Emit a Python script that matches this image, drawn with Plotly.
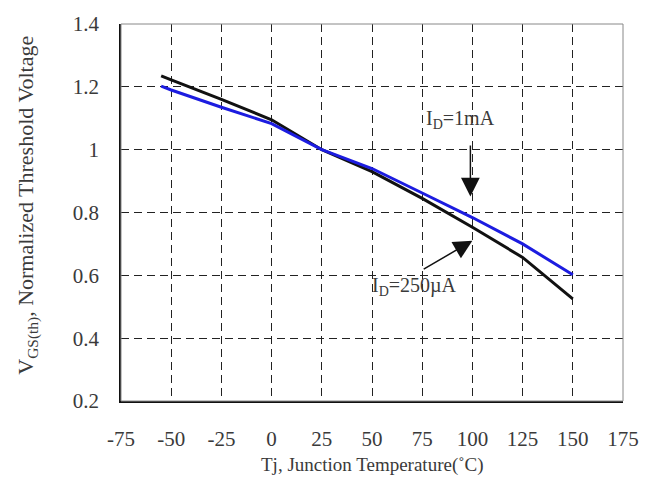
import plotly.graph_objects as go

# Junction temperature (°C) and normalized gate threshold voltage
temp_c = [-55, -50, -25, 0, 25, 50, 75, 100, 125, 150]
vth_250ua = [1.235, 1.222, 1.16, 1.095, 1.0, 0.93, 0.845, 0.753, 0.657, 0.525]
vth_1ma = [1.202, 1.19, 1.135, 1.083, 1.0, 0.94, 0.862, 0.784, 0.70, 0.602]

x_ticks = [-75, -50, -25, 0, 25, 50, 75, 100, 125, 150, 175]
x_tick_text = ["-75", "-50", "-25", "0", "25", "50", "75", "100", "125", "150", "175"]
y_ticks = [0.2, 0.4, 0.6, 0.8, 1.0, 1.2, 1.4]
y_tick_text = ["0.2", "0.4", "0.6", "0.8", "1", "1.2", "1.4"]

FONT = "Liberation Serif"
TXT = "#3a3a3a"

fig = go.Figure()
fig.add_trace(go.Scatter(x=temp_c, y=vth_250ua, mode="lines",
                         line=dict(color="#111111", width=3), name="ID=250µA"))
fig.add_trace(go.Scatter(x=temp_c, y=vth_1ma, mode="lines",
                         line=dict(color="#1c1ce0", width=3), name="ID=1mA"))

grid = dict(showgrid=True, gridcolor="#222222", gridwidth=1.2, griddash="8px,5px",
            showline=True, linecolor="#111111", linewidth=1.5, ticks="",
            zeroline=False, tickfont=dict(family=FONT, size=21, color=TXT))

fig.update_xaxes(range=[-75, 175], tickvals=x_ticks, ticktext=x_tick_text,
                 ticklabelstandoff=18, **grid)
fig.update_yaxes(range=[0.2, 1.4], tickvals=y_ticks, ticktext=y_tick_text,
                 ticklabelstandoff=16, **grid)

# light frame on the top and right sides
fig.add_shape(type="rect", xref="paper", yref="paper", x0=0, y0=0, x1=1, y1=1,
              line=dict(color="#888888", width=1))

arrow = dict(xref="x", yref="y", axref="x", ayref="y", showarrow=True,
             arrowhead=2, arrowsize=2.5, arrowwidth=1.5, arrowcolor="#111111",
             standoff=0, text="")
fig.add_annotation(x=99, y=0.851, ax=99, ay=1.018, **arrow)
fig.add_annotation(x=100, y=0.71, ax=75, ay=0.617, **arrow)
fig.add_annotation(x=94, y=1.095, xref="x", yref="y", showarrow=False,
                   text="I<sub>D</sub>=1mA", font=dict(family=FONT, size=20, color=TXT))
fig.add_annotation(x=71, y=0.565, xref="x", yref="y", showarrow=False,
                   text="I<sub>D</sub>=250µA", font=dict(family=FONT, size=20, color=TXT))

fig.add_annotation(x=0.5, y=(401 - 467) / 386, xref="paper", yref="paper",
                   showarrow=False, yanchor="middle",
                   text="Tj, Junction Temperature(˚C)",
                   font=dict(family=FONT, size=19, color=TXT))
fig.add_annotation(x=(28 - 121) / 502, y=(401 - 201) / 386, xref="paper", yref="paper",
                   showarrow=False, textangle=-90, xanchor="center", yanchor="middle",
                   text="V<sub>GS(th)</sub>, Normalized Threshold Voltage",
                   font=dict(family=FONT, size=22, color=TXT))

fig.update_layout(width=652, height=492, margin=dict(l=121, r=29, t=15, b=91),
                  paper_bgcolor="white", plot_bgcolor="white", showlegend=False)

fig.write_html("out.html")
